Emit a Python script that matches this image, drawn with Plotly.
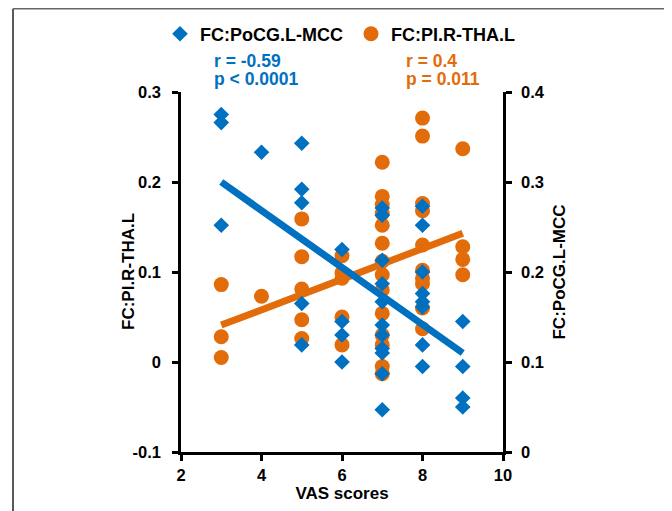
import plotly.graph_objects as go

# ---- data ----
vas_blue = [3, 3, 3,
            4,
            5, 5, 5, 5, 5,
            6, 6, 6, 6,
            7, 7, 7, 7, 7, 7, 7, 7, 7, 7, 7,
            8, 8, 8, 8, 8, 8, 8, 8,
            9, 9, 9, 9]
fc_pocg_mcc = [0.375, 0.366, 0.252,
               0.333,
               0.343, 0.292, 0.277, 0.165, 0.119,
               0.225, 0.145, 0.130, 0.100,
               0.271, 0.263, 0.213, 0.187, 0.167, 0.141, 0.130, 0.115, 0.110, 0.087, 0.047,
               0.273, 0.252, 0.200, 0.176, 0.167, 0.161, 0.119, 0.095,
               0.145, 0.095, 0.060, 0.050]

vas_orange = [3, 3, 3,
              4,
              5, 5, 5, 5, 5,
              6, 6, 6, 6, 6,
              7, 7, 7, 7, 7, 7, 7, 7, 7, 7, 7, 7, 7, 7,
              8, 8, 8, 8, 8, 8, 8, 8, 8, 8,
              9, 9, 9, 9]
fc_pi_tha = [0.086, 0.028, 0.005,
             0.073,
             0.159, 0.117, 0.081, 0.047, 0.026,
             0.118, 0.099, 0.093, 0.050, 0.019,
             0.222, 0.184, 0.175, 0.165, 0.152, 0.132, 0.112, 0.097, 0.080, 0.054, 0.030, 0.019, -0.005, -0.013,
             0.271, 0.251, 0.176, 0.168, 0.130, 0.102, 0.093, 0.087, 0.060, 0.037,
             0.237, 0.128, 0.114, 0.097]

fit_x = [3, 9]
fit_blue = [0.300, 0.110]
fit_orange = [0.041, 0.143]

stats_blue = ["r = -0.59", "p < 0.0001"]
stats_orange = ["r = 0.4", "p = 0.011"]

x_ticks = [2, 4, 6, 8, 10]
y_left_ticks = [-0.1, 0, 0.1, 0.2, 0.3]
y_left_text = ["-0.1", "0", "0.1", "0.2", "0.3"]
y_right_ticks = [0, 0.1, 0.2, 0.3, 0.4]
y_right_text = ["0", "0.1", "0.2", "0.3", "0.4"]

BLUE = "#0070C0"
ORANGE = "#E36C0A"
FONT = "Liberation Sans, Arial, sans-serif"

# page body has an 8px margin: figure pixel = screen pixel - 8
W, H = 664, 503
PL, PR, PT, PB = 173, 495, 84, 444   # plot area in figure pixels
PW, PH = PR - PL, PB - PT


def px(x):
    return (x - PL) / PW


def py(y):
    return (PB - y) / PH


fig = go.Figure()

fig.add_trace(go.Scatter(
    x=vas_orange, y=fc_pi_tha, mode="markers", name="FC:PI.R-THA.L",
    marker=dict(symbol="circle", size=15, color=ORANGE, line=dict(width=0)),
    yaxis="y", legendrank=2))
fig.add_trace(go.Scatter(
    x=fit_x, y=fit_orange, mode="lines", showlegend=False,
    line=dict(color=ORANGE, width=7), yaxis="y"))
fig.add_trace(go.Scatter(
    x=vas_blue, y=fc_pocg_mcc, mode="markers", name="FC:PoCG.L-MCC",
    marker=dict(symbol="diamond", size=12, color=BLUE, line=dict(width=0)),
    yaxis="y2", legendrank=1))
fig.add_trace(go.Scatter(
    x=fit_x, y=fit_blue, mode="lines", showlegend=False,
    line=dict(color=BLUE, width=7), yaxis="y2"))

axis_font = dict(family=FONT, size=16.5, color="black", weight="bold")
title_font = dict(family=FONT, size=17, color="black", weight="bold")

common_axis = dict(showgrid=False, zeroline=False, automargin=False,
                   showline=True, linecolor="black", linewidth=2.5,
                   ticks="outside", ticklen=6, tickwidth=2.5, tickcolor="black",
                   tickfont=axis_font)

fig.update_layout(
    template="none",
    width=W, height=H,
    margin=dict(l=PL, r=W - PR, t=PT, b=H - PB, autoexpand=False),
    paper_bgcolor="white", plot_bgcolor="white",
    showlegend=True,
    legend=dict(orientation="h", x=px(152), xanchor="left", y=py(26), yanchor="middle",
                font=dict(family=FONT, size=18, color="black", weight="bold"),
                itemwidth=30, entrywidth=146, entrywidthmode="pixels",
                tracegroupgap=0, bgcolor="rgba(0,0,0,0)", borderwidth=0),
    xaxis=dict(range=[2, 10], tickvals=x_ticks,
               title=dict(text="VAS scores", font=title_font, standoff=4), **common_axis),
    yaxis=dict(range=[-0.1, 0.3], tickvals=y_left_ticks, ticktext=y_left_text,
               ticklabelstandoff=8, **common_axis),
    yaxis2=dict(range=[0, 0.4], tickvals=y_right_ticks, ticktext=y_right_text,
                overlaying="y", side="right", ticklabelstandoff=6,
                title=dict(text="FC:PoCG.L-MCC", font=title_font, standoff=10), **common_axis),
)

# left axis title (placed closer to the axis than plotly's title would sit)
fig.add_annotation(xref="paper", yref="paper", x=px(120), y=py(264),
                   text="FC:PI.R-THA.L", textangle=-90, showarrow=False,
                   xanchor="center", yanchor="middle", font=title_font)

# statistics annotations
for i, txt in enumerate(stats_blue):
    fig.add_annotation(xref="paper", yref="paper", x=px(204), y=py(53 + 18 * i),
                       text=txt, showarrow=False, xanchor="left", yanchor="middle",
                       font=dict(family=FONT, size=17.5, color=BLUE, weight="bold"))
for i, txt in enumerate(stats_orange):
    fig.add_annotation(xref="paper", yref="paper", x=px(396), y=py(53 + 18 * i),
                       text=txt, showarrow=False, xanchor="left", yanchor="middle",
                       font=dict(family=FONT, size=17.5, color=ORANGE, weight="bold"))

# outer frame (left, top, right)
fx0, fx1 = px(5), px(663)
fy_top, fy_bot = py(0.75), py(520)
fig.add_shape(type="line", xref="paper", yref="paper", x0=fx0, x1=fx0, y0=fy_bot, y1=fy_top,
              line=dict(color="#222222", width=1.5))
fig.add_shape(type="line", xref="paper", yref="paper", x0=fx0, x1=fx1, y0=fy_top, y1=fy_top,
              line=dict(color="#666666", width=1.5))
fig.add_shape(type="line", xref="paper", yref="paper", x0=fx1, x1=fx1, y0=fy_bot, y1=fy_top,
              line=dict(color="#666666", width=2))

fig.write_html("out.html")
